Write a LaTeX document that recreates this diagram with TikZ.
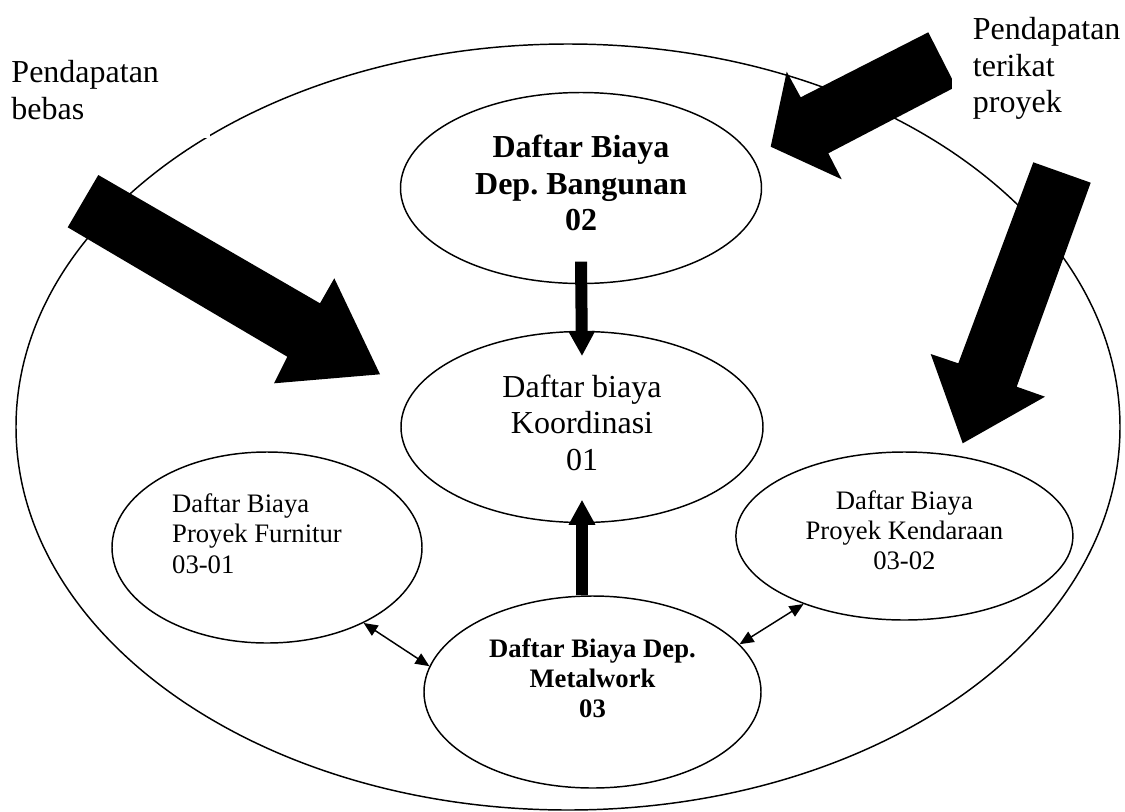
\documentclass[tikz,border=0pt]{standalone}
\usepackage{fontspec}
\setmainfont{Liberation Serif}
\usetikzlibrary{shapes.geometric,arrows.meta}
% invisible depth on a last line, to lift a text block inside its ellipse
\newcommand{\lowpad}[1]{\rule[-#1]{0pt}{#1}}
\frenchspacing
\begin{document}
\begin{tikzpicture}[x=0.75pt,y=-0.75pt,
  every node/.style={inner sep=0pt},
  bubble/.style={ellipse,draw,line width=1.1pt},
  bigtxt/.style={font=\fontsize{24}{27.5}\selectfont},
  bigbold/.style={font=\fontsize{24}{27.5}\selectfont\bfseries},
  smalltxt/.style={font=\fontsize{20}{22.75}\selectfont},
  smallbold/.style={font=\fontsize{20}{22.75}\selectfont\bfseries},
  margintxt/.style={bigtxt,align=left,fill=white},
  flow/.style={line width=9pt,-{Triangle[length=18.75pt,width=18.75pt]}},
  link/.style={line width=1.1pt,{Triangle[length=10.5pt,width=9pt]}-{Triangle[length=10.5pt,width=9pt]}},
  income/.style={fill=black}
]
\useasboundingbox (0,0) rectangle (1125,811);

% the whole company
\node[bubble,minimum width=828pt,minimum height=574.5pt] (firm) at (568,427) {};

% cost registers
\node[bubble,bigbold,align=center,minimum width=270.75pt,minimum height=143.25pt] (bang) at (581,188)
  {Daftar Biaya\\Dep. Bangunan\\02\lowpad{7.8pt}};
\node[bubble,bigtxt,align=center,minimum width=271.5pt,minimum height=143.25pt] (koor) at (582,427)
  {Daftar biaya\\Koordinasi\\01\lowpad{6.5pt}};
\node[bubble,smallbold,align=center,minimum width=252.75pt,minimum height=144pt] (met) at (592.5,692)
  {Daftar Biaya Dep.\\Metalwork\\03\lowpad{21pt}};
\node[bubble,smalltxt,align=left,minimum width=232.5pt,minimum height=143.25pt] (fur) at (267,547.5)
  {Daftar Biaya\\Proyek Furnitur\rule{15pt}{0pt}\\03-01\lowpad{21pt}};
\node[bubble,smalltxt,align=center,minimum width=252.75pt,minimum height=126pt] (ken) at (904.4,536)
  {Daftar Biaya\\Proyek Kendaraan\\03-02\lowpad{9pt}};

% flows between the registers
\draw[flow] ([yshift=17pt]bang.south) -- ([yshift=-19pt]koor.north);
\draw[flow] (koor.south |- met.north) -- ([yshift=17.6pt]koor.south);
\draw[link] (fur.-38.7) -- (met.171.5);
\draw[link] (met.18.7) -- (ken.-146);

% incoming revenue streams
\fill[income] (98.3,175) -- (320,303.3) -- (334.3,278.3) -- (380,374.3)
  -- (274,383.3) -- (287.3,356.7) -- (67.7,227.3) -- cycle;
\fill[income] (928.3,32.3) -- (956,86.7) -- (828.3,153.3) -- (841.7,179.3)
  -- (770.7,146.7) -- (786.7,71.7) -- (800.7,97.3) -- cycle;
\fill[income] (1033.3,162.3) -- (1090.7,182.7) -- (1016.7,386.7) -- (1045,396.7)
  -- (962.7,443.3) -- (930.7,354) -- (958.3,363.3) -- cycle;

% revenue labels in white text boxes
\node[margintxt,anchor=south east,text width=141.2pt,inner xsep=7.5pt,inner ysep=13.5pt] (free) at (210,138)
  {Pendapatan\\bebas};
\node[margintxt,anchor=north west,text width=120pt,inner xsep=15.5pt,inner ysep=9pt] (tied) at (952,5)
  {Pendapatan\\terikat\\proyek};
\end{tikzpicture}
\end{document}
